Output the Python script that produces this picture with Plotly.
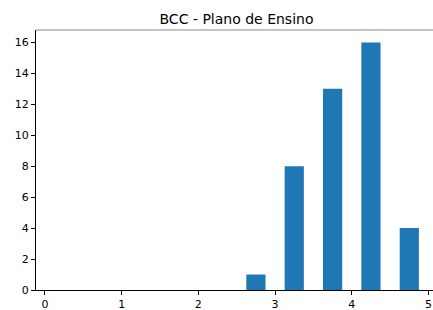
import plotly.graph_objects as go

bin_centers = [0.25, 0.75, 1.25, 1.75, 2.25, 2.75, 3.25, 3.75, 4.25, 4.75]
counts = [0, 0, 0, 0, 0, 1, 8, 13, 16, 4]
x_ticks = [0, 1, 2, 3, 4, 5]
y_ticks = [0, 2, 4, 6, 8, 10, 12, 14, 16]
title = "BCC - Plano de Ensino"

fig = go.Figure(go.Bar(
    x=bin_centers, y=counts, width=0.25,
    marker=dict(color="#1f77b4", line=dict(width=0)),
))

font = dict(family="DejaVu Sans", size=11, color="black")
fig.update_layout(
    width=433, height=310,
    margin=dict(l=36, r=0, t=30, b=20),
    plot_bgcolor="white", paper_bgcolor="white",
    showlegend=False,
    font=font,
    title=dict(text=title, x=236.5 / 433, xanchor="center", y=1 - 19.5 / 310,
               yanchor="middle", font=dict(family="DejaVu Sans", size=14, color="black")),
    xaxis=dict(range=[-0.117, 5.059], tickvals=x_ticks, showgrid=False, zeroline=False,
               showline=True, linecolor="black", linewidth=1, ticks="outside",
               ticklen=4, tickcolor="black", tickfont=font),
    yaxis=dict(range=[0, 16.8], tickvals=y_ticks, showgrid=False, zeroline=False,
               showline=True, linecolor="black", linewidth=1, ticks="outside",
               ticklen=4, tickcolor="black", tickfont=font),
    shapes=[dict(type="line", xref="paper", yref="paper", x0=0, x1=1, y0=1, y1=1,
                 line=dict(color="#888888", width=1))],
)
fig.write_html("out.html", config={"displayModeBar": False},
               post_script="document.body.style.margin='0';")
